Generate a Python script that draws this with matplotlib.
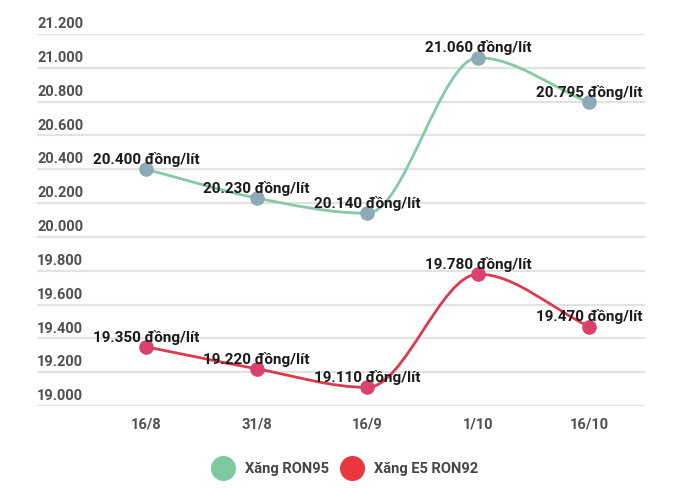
import matplotlib
matplotlib.use("Agg")
import matplotlib.pyplot as plt
import numpy as np
from matplotlib.lines import Line2D
from matplotlib.path import Path
from matplotlib.patches import PathPatch
from matplotlib.transforms import blended_transform_factory

plt.rcParams['font.family'] = ['Roboto', 'DejaVu Sans']

# data (đồng/lít)
dates = ["16/8", "31/8", "16/9", "1/10", "16/10"]
ron95 = [20400, 20230, 20140, 21060, 20795]
e5_ron92 = [19350, 19220, 19110, 19780, 19470]
series_names = ["Xăng RON95", "Xăng E5 RON92"]
y_ticks = [19000, 19200, 19400, 19600, 19800, 20000, 20200, 20400, 20600, 20800, 21000, 21200]

line_colors = ["#86c9a6", "#dc3a4e"]
marker_colors = ["#8eaab6", "#d8426c"]
legend_colors = ["#7cc9a0", "#e8383e"]


def fmt(v):
    return f"{v:,}".replace(",", ".")


def monotone_path(xs, ys):
    # Fritsch-Carlson tangents, drawn as cubic bezier segments
    xs = np.asarray(xs, float)
    ys = np.asarray(ys, float)
    d = np.diff(ys) / np.diff(xs)
    m = np.zeros_like(ys)
    m[0], m[-1] = d[0], d[-1]
    for k in range(1, len(ys) - 1):
        m[k] = 0.0 if d[k - 1] * d[k] <= 0 else (d[k - 1] + d[k]) / 2
    for k in range(len(d)):
        if d[k] == 0:
            m[k] = m[k + 1] = 0
            continue
        a, b = m[k] / d[k], m[k + 1] / d[k]
        s = a * a + b * b
        if s > 9:
            t = 3 / np.sqrt(s)
            m[k], m[k + 1] = t * a * d[k], t * b * d[k]
    verts = [(xs[0], ys[0])]
    codes = [Path.MOVETO]
    for k in range(len(d)):
        h = xs[k + 1] - xs[k]
        verts += [(xs[k] + h / 3, ys[k] + m[k] * h / 3),
                  (xs[k + 1] - h / 3, ys[k + 1] - m[k + 1] * h / 3),
                  (xs[k + 1], ys[k + 1])]
        codes += [Path.CURVE4] * 3
    return Path(verts, codes)


W, H = 700, 488
fig = plt.figure(figsize=(W / 100, H / 100), dpi=100)
ax = fig.add_axes([37 / W, 1 - 406 / H, (645 - 37) / W, (406 - 34) / H])
ax.set_xlim(-0.984, 4.506)
ax.set_ylim(y_ticks[0], y_ticks[-1])
for s in ax.spines.values():
    s.set_visible(False)

for v in y_ticks:
    ax.axhline(v, color="#e2e2e2", lw=1.6, zorder=0)
    ax.annotate(fmt(v), (0, v), xycoords=blended_transform_factory(ax.transAxes, ax.transData),
                xytext=(0, 2), textcoords="offset points", ha="left", va="bottom",
                fontsize=10.5, fontweight="bold", color="#505050")
ax.set_yticks([])

x = np.arange(len(dates))
ax.set_xticks(x)
ax.set_xticklabels(dates, fontsize=10.5, fontweight="bold", color="#505050")
ax.tick_params(axis="x", length=0, pad=8)

for vals, lc, mc in zip([ron95, e5_ron92], line_colors, marker_colors):
    ax.add_patch(PathPatch(monotone_path(x, vals), facecolor="none", edgecolor=lc, lw=2, zorder=2))
    ax.scatter(x, vals, s=90, color=mc, edgecolor=mc, zorder=3)
    for xi, v in zip(x, vals):
        ax.annotate(f"{fmt(v)} đồng/lít", (xi, v), xytext=(0, 7), textcoords="offset points",
                    ha="center", va="center", fontsize=11, fontweight="bold",
                    color="#1a1a1a", zorder=4)

handles = [Line2D([], [], marker="o", ls="", markersize=17, color=c) for c in legend_colors]
fig.legend(handles, series_names, loc="center", bbox_to_anchor=(343 / W, 1 - 469 / H),
           ncol=2, frameon=False, handletextpad=0.5, columnspacing=0.6,
           prop={"size": 10.5, "weight": "bold"}, labelcolor="#454545")

fig.savefig("out.png", dpi=100, facecolor="white")
